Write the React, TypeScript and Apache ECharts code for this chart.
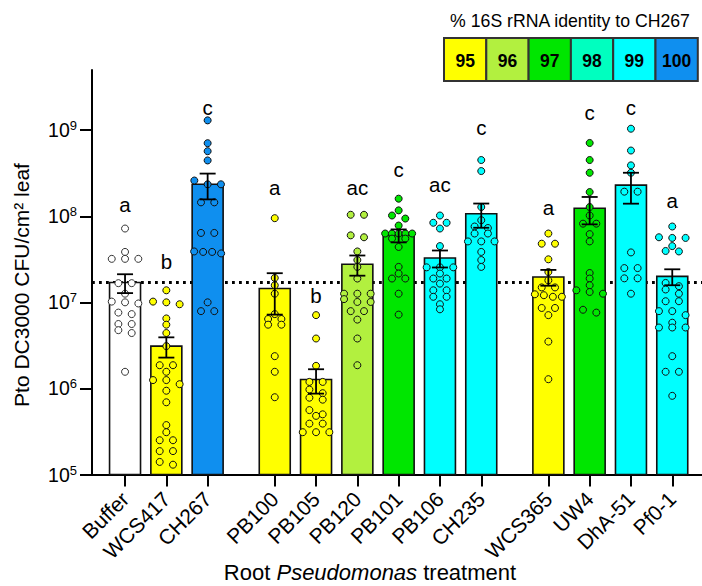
import React, { useEffect, useRef } from 'react';
import * as echarts from 'echarts';

// ---------- data ----------
const strains = ['Buffer', 'WCS417', 'CH267', 'PB100', 'PB105', 'PB120', 'PB101', 'PB106', 'CH235', 'WCS365', 'UW4', 'DhA-51', 'Pf0-1'];
const groupSizes = [3, 6, 4];
const identity: (number | null)[] = [null, 95, 100, 95, 95, 96, 97, 99, 99, 95, 97, 99, 99];
const means = [1.7e7, 3.1e6, 2.35e8, 1.45e7, 1.27e6, 2.77e7, 6.0e7, 3.27e7, 1.07e8, 1.97e7, 1.24e8, 2.3e8, 2.0e7];
const sems = [4.2e6, 8.2e5, 7.8e7, 7.3e6, 4.0e5, 7.3e6, 1.03e7, 7.3e6, 3.35e7, 4.1e6, 4.35e7, 9.0e7, 4.2e6];
const letters = ['a', 'b', 'c', 'a', 'b', 'ac', 'c', 'ac', 'c', 'a', 'c', 'c', 'a'];
const letterLevels = [1.36e8, 3.0e7, 1.85e9, 2.15e8, 1.21e7, 2.15e8, 3.47e8, 2.34e8, 1.07e9, 1.28e8, 1.59e9, 1.85e9, 1.53e8];

const buffer = [7.2e7, 3.85e7, 3.2e7, 3.2e7, 3.2e7, 1.67e7, 1.67e7, 1.26e7, 1.02e7, 1.0e7, 9.7e6, 7.6e6, 7.3e6, 5.6e6, 5.6e6, 4.75e6, 4.4e6, 1.56e6];
const wcs417 = [1.38e7, 1.02e7, 1.0e7, 9.5e6, 6.5e6, 5.5e6, 4.4e6, 3.1e6, 1.86e6, 1.86e6, 1.56e6, 1.25e6, 1.25e6, 1.12e6, 9.4e5, 6.9e5, 3.75e5, 3.1e5, 2.5e5, 2.5e5, 1.87e5, 1.87e5, 1.4e5, 1.3e5];
const ch267 = [1.3e9, 7.06e8, 5.7e8, 4.45e8, 2.6e8, 2.35e8, 2.35e8, 1.45e8, 1.45e8, 6.4e7, 6.4e7, 3.9e7, 3.85e7, 3.85e7, 3.7e7, 1.0e7, 7.9e6, 7.9e6];
const pb100 = [9.5e7, 1.92e7, 1.58e7, 1.26e7, 7.3e6, 6.4e6, 6.4e6, 5.5e6, 5.5e6, 2.37e6, 1.56e6, 7.9e5];
const pb105 = [7.1e6, 3.8e6, 1.83e6, 1.19e6, 1.19e6, 9.7e5, 8.8e5, 7.8e5, 7.4e5, 5.6e5, 5.0e5, 4.8e5, 3.9e5, 3.9e5, 3.1e5, 3.1e5, 3.1e5];
const pb120 = [1.04e8, 1.04e8, 6.0e7, 5.7e7, 3.9e7, 3.1e7, 2.58e7, 1.89e7, 1.26e7, 1.26e7, 1.26e7, 1.09e7, 1.01e7, 1.01e7, 7.9e6, 7.9e6, 6.3e6, 3.8e6, 1.86e6];
const pb101 = [1.6e8, 1.17e8, 1.02e8, 9.4e7, 7.8e7, 6.3e7, 6.3e7, 6.3e7, 6.3e7, 6.3e7, 5.5e7, 5.5e7, 4.4e7, 2.58e7, 2.16e7, 1.89e7, 1.89e7, 1.26e7, 7.2e6];
const pb106 = [1.02e8, 8.4e7, 8.4e7, 7.2e7, 4.5e7, 2.55e7, 2.55e7, 2.55e7, 2.16e7, 1.89e7, 1.89e7, 1.65e7, 1.38e7, 1.38e7, 1.16e7, 1.16e7, 9.5e6, 8.3e6];
const ch235 = [4.5e8, 3.35e8, 1.28e8, 9.0e7, 7.6e7, 7.3e7, 6.3e7, 6.3e7, 5.1e7, 5.1e7, 5.1e7, 3.85e7, 3.1e7, 2.58e7];
const wcs365 = [6.3e7, 4.8e7, 4.8e7, 3.16e7, 2.25e7, 1.8e7, 1.49e7, 1.49e7, 1.24e7, 1.21e7, 1.16e7, 1.16e7, 8.6e6, 8.6e6, 7.1e6, 3.5e6, 1.28e6];
const uw4 = [7.1e8, 4.5e8, 3.2e8, 1.91e8, 1.28e8, 1.02e8, 8.2e7, 8.2e7, 6.2e7, 5.1e7, 2.19e7, 1.89e7, 1.58e7, 1.38e7, 1.32e7, 1.26e7, 8.2e6, 7.6e6];
const dha51 = [1.04e9, 5.8e8, 3.9e8, 3.2e8, 1.93e8, 1.93e8, 3.8e7, 2.5e7, 2.5e7, 1.9e7, 1.9e7, 1.26e7];
const pf01 = [7.6e7, 5.7e7, 5.6e7, 5.6e7, 4.5e7, 3.95e7, 3.9e7, 1.68e7, 1.54e7, 1.41e7, 1.26e7, 1.03e7, 1.03e7, 7.9e6, 7.9e6, 7.1e6, 5.8e6, 5.1e6, 5.1e6, 5.1e6, 2.37e6, 1.56e6, 1.56e6, 8.2e5];
const points = [buffer, wcs417, ch267, pb100, pb105, pb120, pb101, pb106, ch235, wcs365, uw4, dha51, pf01];

const legendIdentity = [95, 96, 97, 98, 99, 100];
const yTickExponents = [5, 6, 7, 8, 9];

// ---------- styles / layout ----------
const W = 702, H = 586;
const GRID = { left: 92, right: 0, top: 70, bottom: 111.5 };
const X_MIN = -0.8, X_MAX = 13.97;
const Y_MIN = 5, Y_MAX = Math.log10(5e9);
const GROUP_GAP = 0.625;
const BAR_W = 0.75;
const FONT = 'Liberation Sans, Arial, Helvetica, sans-serif';
const palette: Record<number, string> = {
  95: '#FFFF00', 96: '#B2F03F', 97: '#00E600', 98: '#00FFBF', 99: '#00FFFF', 100: '#0F8FEF',
};
const colorOf = (i: number) => (identity[i] == null ? '#FFFFFF' : palette[identity[i] as number]);

const positions: number[] = [];
{
  let p = 0;
  groupSizes.forEach((n) => {
    for (let k = 0; k < n; k++) positions.push(p + k);
    p += n + GROUP_GAP;
  });
}

const PX_PER_DEC = (H - GRID.top - GRID.bottom) / (Y_MAX - Y_MIN);

function swarm(vals: number[]): number[] {
  const order = vals.map((_, i) => i).sort((a, b) => vals[b] - vals[a]);
  const offs = new Array(vals.length).fill(0);
  let row: number[] = [];
  let startY = 0;
  const flush = () => {
    const n = row.length;
    const step = n > 1 ? Math.min(13.3, 27 / (n - 1)) : 0;
    row.forEach((k, j) => (offs[k] = (j - (n - 1) / 2) * step));
    row = [];
  };
  for (const k of order) {
    const y = Math.log10(vals[k]) * PX_PER_DEC;
    if (row.length && startY - y > 4.5) flush();
    if (!row.length) startY = y;
    row.push(k);
  }
  flush();
  return offs;
}

function nameAt(v: number) {
  let best = 0;
  positions.forEach((p, i) => {
    if (Math.abs(p - v) < Math.abs(positions[best] - v)) best = i;
  });
  return strains[best];
}

export default function App() {
  const ref = useRef<HTMLDivElement>(null);
  useEffect(() => {
    if (!ref.current) return;
    const chart = echarts.init(ref.current, undefined, { renderer: 'svg' });

    const pointData: number[][] = [];
    points.forEach((vals, i) => {
      const offs = swarm(vals);
      vals.forEach((v, j) => pointData.push([positions[i], Math.log10(v), i, offs[j]]));
    });

    const legendX0 = 444, legendW = 42.3, legendY = 38, legendH = 43;
    const legendEls: any[] = [
      {
        type: 'text', x: 570, y: 21,
        style: { text: '% 16S rRNA identity to CH267', fontSize: 17.7, fontFamily: FONT, fill: '#000', align: 'center', verticalAlign: 'middle' },
      },
    ];
    legendIdentity.forEach((id, k) => {
      legendEls.push({
        type: 'rect',
        shape: { x: legendX0 + k * legendW, y: legendY, width: legendW, height: legendH },
        style: { fill: palette[id], stroke: '#333', lineWidth: 2 },
      });
      legendEls.push({
        type: 'text', x: legendX0 + k * legendW + legendW / 2, y: legendY + legendH / 2 + 1,
        style: { text: String(id), fontSize: 17.5, fontWeight: 'bold', fontFamily: FONT, fill: '#000', align: 'center', verticalAlign: 'middle' },
      });
    });

    const option: any = {
      animation: false,
      textStyle: { fontFamily: FONT },
      grid: { left: GRID.left, right: GRID.right, top: GRID.top, bottom: GRID.bottom, containLabel: false },
      xAxis: {
        type: 'value', min: X_MIN, max: X_MAX,
        axisLine: { show: true, onZero: false, lineStyle: { color: '#000', width: 2 } },
        axisTick: { show: true, length: 12, customValues: positions, lineStyle: { color: '#000', width: 2 } },
        axisLabel: {
          customValues: positions, formatter: (v: number) => nameAt(v), rotate: 45, margin: 21,
          fontSize: 21, color: '#000', fontFamily: FONT,
        },
        splitLine: { show: false },
      },
      yAxis: {
        type: 'value', min: Y_MIN, max: Y_MAX,
        axisLine: { show: true, onZero: false, lineStyle: { color: '#000', width: 2 } },
        axisTick: { show: true, length: 12, customValues: yTickExponents, lineStyle: { color: '#000', width: 2 } },
        axisLabel: {
          customValues: yTickExponents, margin: 15, color: '#000',
          formatter: (v: number) => `{b|10}{s|${Math.round(v)}}`,
          rich: {
            b: { fontSize: 19.5, lineHeight: 22, fontFamily: FONT, color: '#000' },
            s: { fontSize: 13, lineHeight: 13, verticalAlign: 'top', fontFamily: FONT, color: '#000' },
          },
        },
        splitLine: { show: false },
      },
      graphic: [
        ...legendEls,
        {
          type: 'text', x: 21, y: 285, rotation: Math.PI / 2,
          style: { text: 'Pto DC3000 CFU/cm² leaf', fontSize: 21, fontFamily: FONT, fill: '#000', align: 'center', verticalAlign: 'middle' },
        },
        {
          type: 'text', x: 370, y: 572,
          style: {
            text: '{n|Root }{i|Pseudomonas}{n| treatment}', align: 'center', verticalAlign: 'middle', fill: '#000',
            rich: {
              n: { fontSize: 22, lineHeight: 24, fontFamily: FONT, fill: '#000' },
              i: { fontSize: 22, lineHeight: 24, fontFamily: FONT, fontStyle: 'italic', fill: '#000' },
            },
          },
        },
      ],
      series: [
        {
          type: 'line', z: 1, silent: true, symbol: 'none',
          data: [[X_MIN, Math.log10(means[0])], [X_MAX, Math.log10(means[0])]],
          lineStyle: { color: '#000', width: 2.8, type: [2.8, 4.2] },
        },
        {
          type: 'custom', z: 2, silent: true,
          data: strains.map((_, i) => [positions[i], Math.log10(means[i]), i]),
          encode: { x: 0, y: 1 },
          renderItem: (params: any, api: any) => {
            const i = api.value(2);
            const top = api.coord([api.value(0), api.value(1)]);
            const bot = api.coord([api.value(0), Y_MIN]);
            const w = api.size([BAR_W, 0])[0];
            return {
              type: 'rect',
              shape: { x: top[0] - w / 2, y: top[1], width: w, height: bot[1] - top[1] },
              style: { fill: colorOf(i), stroke: '#111', lineWidth: 1.6 },
            };
          },
        },
        {
          type: 'custom', z: 3, silent: true,
          data: pointData,
          encode: { x: 0, y: 1 },
          renderItem: (params: any, api: any) => {
            const i = api.value(2);
            const c = api.coord([api.value(0), api.value(1)]);
            return {
              type: 'circle',
              shape: { cx: c[0] + api.value(3), cy: c[1], r: 3.5 },
              style: { fill: colorOf(i), stroke: i === 0 ? '#333' : '#111', lineWidth: 1 },
            };
          },
        },
        {
          type: 'custom', z: 4, silent: true,
          data: strains.map((_, i) => [positions[i], Math.log10(means[i] - sems[i]), Math.log10(means[i] + sems[i])]),
          encode: { x: 0, y: [1, 2] },
          renderItem: (params: any, api: any) => {
            const lo = api.coord([api.value(0), api.value(1)]);
            const hi = api.coord([api.value(0), api.value(2)]);
            const hw = 8;
            const st = { stroke: '#000', lineWidth: 1.8 };
            return {
              type: 'group',
              children: [
                { type: 'line', shape: { x1: lo[0], y1: lo[1], x2: hi[0], y2: hi[1] }, style: st },
                { type: 'line', shape: { x1: lo[0] - hw, y1: lo[1], x2: lo[0] + hw, y2: lo[1] }, style: st },
                { type: 'line', shape: { x1: hi[0] - hw, y1: hi[1], x2: hi[0] + hw, y2: hi[1] }, style: st },
              ],
            };
          },
        },
        {
          type: 'custom', z: 5, silent: true,
          data: strains.map((_, i) => [positions[i], Math.log10(letterLevels[i]), i]),
          encode: { x: 0, y: 1 },
          renderItem: (params: any, api: any) => {
            const i = api.value(2);
            const c = api.coord([api.value(0), api.value(1)]);
            return {
              type: 'text', x: c[0], y: c[1],
              style: { text: letters[i], fontSize: 20.5, fontFamily: FONT, fill: '#000', align: 'center', verticalAlign: 'middle' },
            };
          },
        },
      ],
    };
    chart.setOption(option);
    return () => chart.dispose();
  }, []);
  return <div ref={ref} style={{ position: 'fixed', left: 0, top: 0, width: W, height: H, background: '#fff' }} />;
}
